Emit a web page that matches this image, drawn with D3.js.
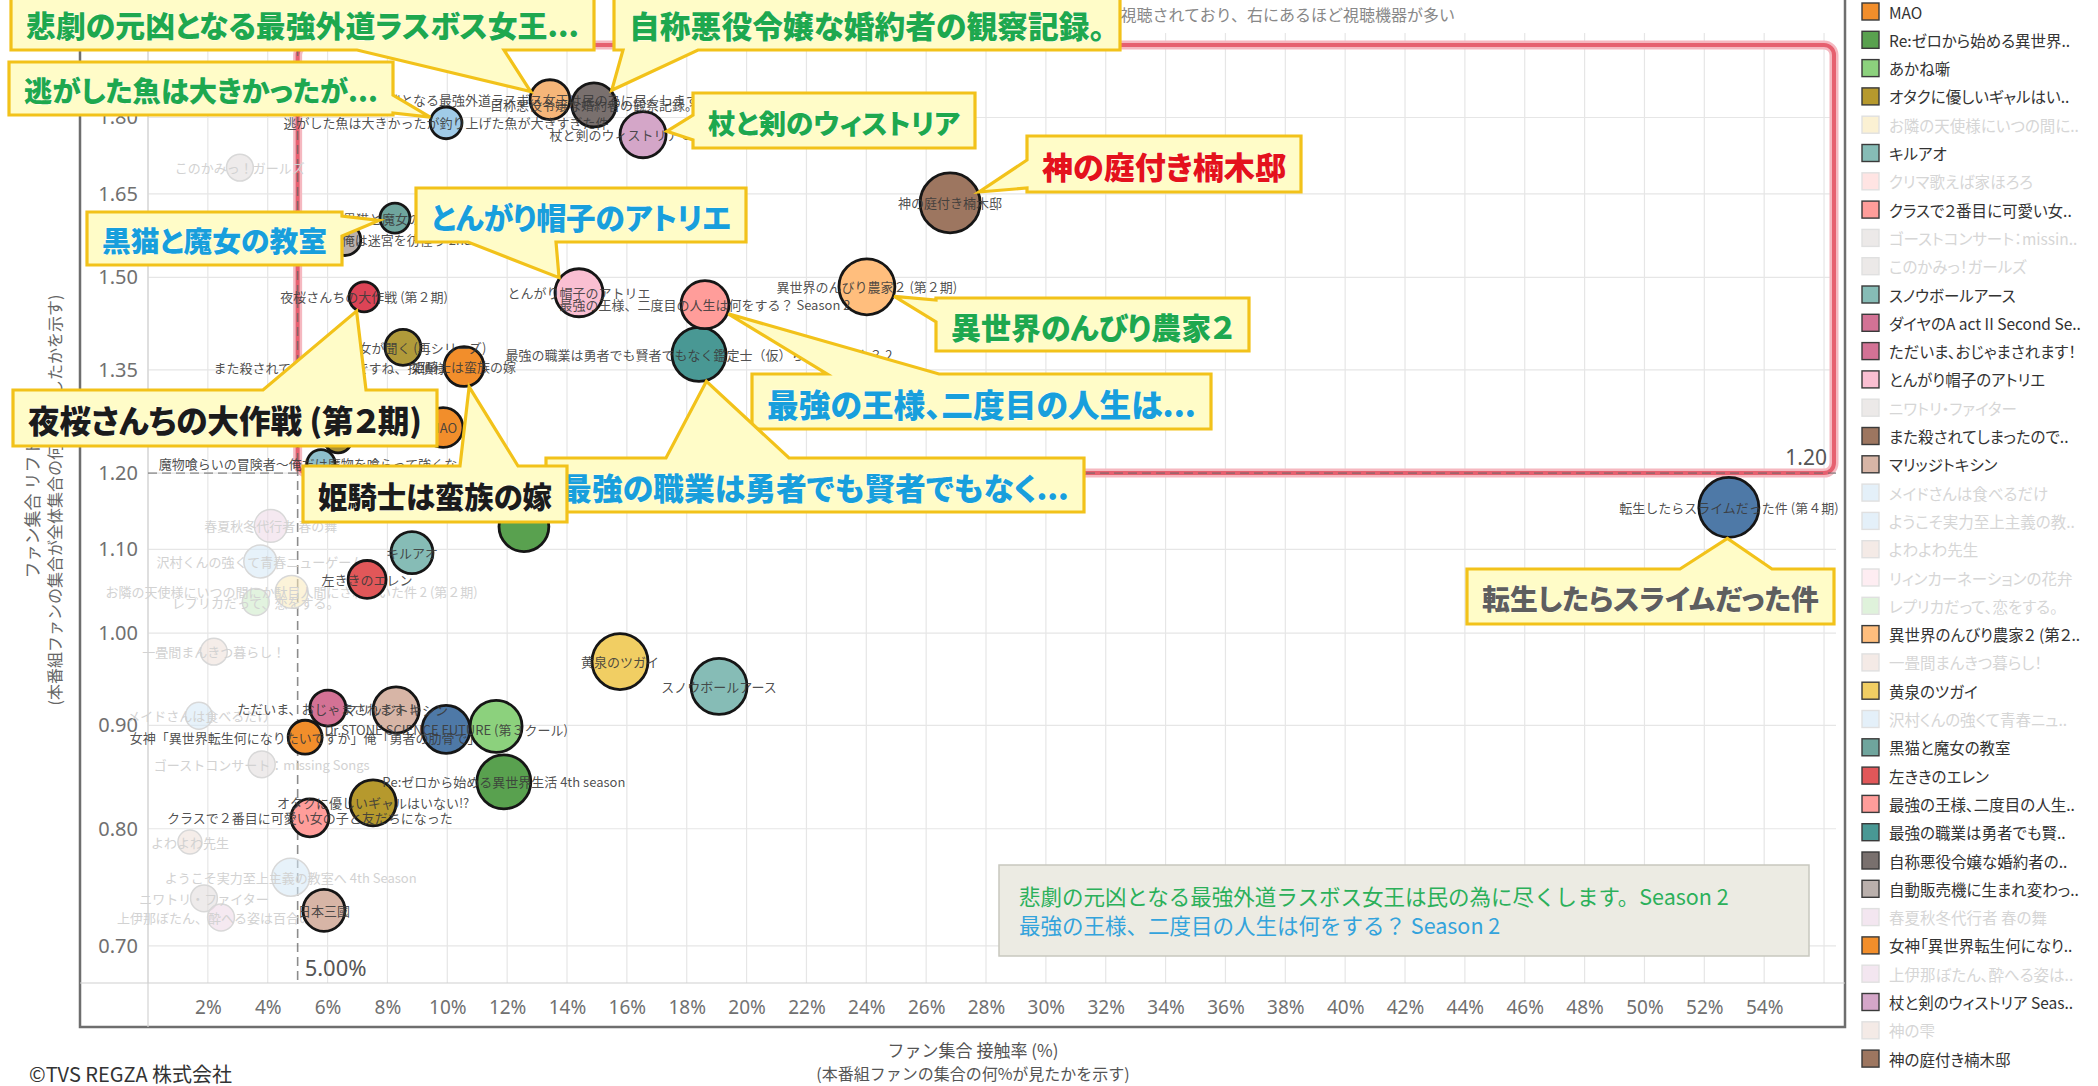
<!DOCTYPE html>
<html>
<head>
<meta charset="utf-8">
<script src="https://cdn.jsdelivr.net/npm/d3@7"></script>
<style>
  body { margin: 0; background: #fff; }
  svg { display: block; font-family: "Noto Sans CJK JP", "Noto Sans", sans-serif; }
</style>
</head>
<body>
<svg id="chart" width="2098" height="1086"></svg>
<script>
// ---------- data ----------
const xTicks = d3.range(2, 56, 2);
const yTicks = [0.70, 0.80, 0.90, 1.00, 1.10, 1.20, 1.35, 1.50, 1.65, 1.80];

// highlighted titles (x: ファン集合 接触率 %, y: リフト値, size: bubble size)
const pointNames = [
  "悲劇の元凶となる最強外道ラスボス女王は民の為に尽くします。Season 2",
  "自称悪役令嬢な婚約者の観察記録。",
  "杖と剣のウィストリア Season 2",
  "逃がした魚は大きかったが釣り上げた魚が大きすぎた件",
  "黒猫と魔女の教室",
  "自動販売機に生まれ変わった俺は迷宮を彷徨う 2nd season",
  "とんがり帽子のアトリエ",
  "夜桜さんちの大作戦 (第２期)",
  "陶芸少女が聞く (再シリーズ)",
  "姫騎士は蛮族の嫁",
  "MAO",
  "最強の王様、二度目の人生は何をする？ Season 2",
  "最強の職業は勇者でも賢者でもなく鑑定士（仮）らしいですよ？ 2",
  "魔物喰らいの冒険者～俺だけ魔物を喰らって強くなる～",
  "また殺されてしまったのですね、探偵様",
  "（その他２）",
  "（その他）",
  "キルアオ",
  "左ききのエレン",
  "黄泉のツガイ",
  "スノウボールアース",
  "ただいま、おじゃまされます！",
  "マリッジトキシン",
  "Dr.STONE SCIENCE FUTURE (第３クール)",
  "あかね噺",
  "女神「異世界転生何になりたいですか」俺「勇者の肋骨で」",
  "Re:ゼロから始める異世界生活 4th season",
  "オタクに優しいギャルはいない!?",
  "クラスで２番目に可愛い女の子と友だちになった",
  "日本三國",
  "神の庭付き楠木邸",
  "異世界のんびり農家２ (第２期)",
  "転生したらスライムだった件 (第４期)"
];
const pointX = [13.43, 14.90, 16.54, 9.96, 8.25, 6.58, 14.40, 7.22, 8.52, 10.56, 9.86, 18.61, 18.41, 5.78, 6.08, 6.35,
  12.56, 8.82, 7.32, 15.77, 19.08, 6.01, 8.29, 9.96, 11.63, 5.25, 11.89, 7.52, 5.41, 5.88, 26.80, 24.02, 52.82];
const pointY = [1.837, 1.826, 1.765, 1.789, 1.605, 1.566, 1.474, 1.467, 1.385, 1.355, 1.264, 1.454, 1.374, 1.213, 1.354, 1.248,
  1.129, 1.096, 1.063, 0.968, 0.941, 0.918, 0.916, 0.896, 0.899, 0.888, 0.844, 0.824, 0.810, 0.729, 1.633, 1.484, 1.154];
const pointSize = [44, 54, 59, 28, 25, 28, 64, 25, 36, 44, 44, 64, 81, 22, 28, 22,
  69, 49, 40, 87, 87, 36, 59, 64, 75, 32, 81, 59, 40, 49, 100, 87, 100];
const hiddenLabels = ["（その他）", "（その他２）", "あかね噺"];

// titles that are greyed out
const fadedNames = ["このかみっ！ガールズ", "春夏秋冬代行者 春の舞", "沢村くんの強くて青春ニューゲーム",
  "お隣の天使様にいつの間にか駄目人間にされていた件 2 (第２期)", "レプリカだって、恋をする。", "一畳間まんきつ暮らし！",
  "メイドさんは食べるだけ", "ゴーストコンサート：missing Songs", "よわよわ先生",
  "ようこそ実力至上主義の教室へ 4th Season", "ニワトリ・ファイター", "上伊那ぼたん、酔へる姿は百合の花"];
const fadedX = [3.07, 4.10, 3.75, 4.80, 3.60, 2.20, 1.70, 3.80, 1.40, 4.77, 1.87, 2.44];
const fadedY = [1.700, 1.130, 1.085, 1.048, 1.036, 0.979, 0.910, 0.861, 0.788, 0.757, 0.739, 0.723];
const fadedSize = [20, 30, 30, 30, 20, 20, 20, 20, 16, 40, 20, 20];

// legend window (as visible)
const legendNames = ["MAO", "Re:ゼロから始める異世界生活 4th season", "あかね噺", "オタクに優しいギャルはいない!?",
  "お隣の天使様にいつの間にか駄目人間にされていた件 2 (第２期)", "キルアオ", "クリマ歌えば家ほろろ",
  "クラスで２番目に可愛い女の子と友だちになった", "ゴーストコンサート：missing Songs", "このかみっ！ガールズ",
  "スノウボールアース", "ダイヤのA act II Second Season", "ただいま、おじゃまされます！", "とんがり帽子のアトリエ",
  "ニワトリ・ファイター", "また殺されてしまったのですね、探偵様", "マリッジトキシン", "メイドさんは食べるだけ",
  "ようこそ実力至上主義の教室へ 4th Season", "よわよわ先生", "リィンカーネーションの花弁", "レプリカだって、恋をする。",
  "異世界のんびり農家２ (第２期)", "一畳間まんきつ暮らし！", "黄泉のツガイ", "沢村くんの強くて青春ニューゲーム",
  "黒猫と魔女の教室", "左ききのエレン", "最強の王様、二度目の人生は何をする？ Season 2",
  "最強の職業は勇者でも賢者でもなく鑑定士（仮）らしいですよ？ 2", "自称悪役令嬢な婚約者の観察記録。",
  "自動販売機に生まれ変わった俺は迷宮を彷徨う 2nd season", "春夏秋冬代行者 春の舞",
  "女神「異世界転生何になりたいですか」俺「勇者の肋骨で」", "上伊那ぼたん、酔へる姿は百合の花",
  "杖と剣のウィストリア Season 2", "神の雫", "神の庭付き楠木邸"];
const legendFaded = ["お隣の天使様にいつの間にか駄目人間にされていた件 2 (第２期)", "クリマ歌えば家ほろろ",
  "ゴーストコンサート：missing Songs", "このかみっ！ガールズ", "ニワトリ・ファイター", "メイドさんは食べるだけ",
  "ようこそ実力至上主義の教室へ 4th Season", "よわよわ先生", "リィンカーネーションの花弁", "レプリカだって、恋をする。",
  "一畳間まんきつ暮らし！", "沢村くんの強くて青春ニューゲーム", "春夏秋冬代行者 春の舞",
  "上伊那ぼたん、酔へる姿は百合の花", "神の雫"];

// series colours
const colorOf = {
  "MAO": "#f28e2b", "Re:ゼロから始める異世界生活 4th season": "#59a14f", "あかね噺": "#8cd17d",
  "オタクに優しいギャルはいない!?": "#b6992d", "お隣の天使様にいつの間にか駄目人間にされていた件 2 (第２期)": "#f1ce63",
  "キルアオ": "#86bcb6", "クリマ歌えば家ほろろ": "#ff9d9a", "クラスで２番目に可愛い女の子と友だちになった": "#ff9d9a",
  "ゴーストコンサート：missing Songs": "#bab0ac", "このかみっ！ガールズ": "#bab0ac", "スノウボールアース": "#86bcb6",
  "ダイヤのA act II Second Season": "#d37295", "ただいま、おじゃまされます！": "#d37295", "とんがり帽子のアトリエ": "#fabfd2",
  "ニワトリ・ファイター": "#bab0ac", "また殺されてしまったのですね、探偵様": "#9d7660", "マリッジトキシン": "#d7b5a6",
  "メイドさんは食べるだけ": "#a0cbe8", "ようこそ実力至上主義の教室へ 4th Season": "#a0cbe8", "よわよわ先生": "#d7b5a6",
  "リィンカーネーションの花弁": "#fabfd2", "レプリカだって、恋をする。": "#8cd17d", "異世界のんびり農家２ (第２期)": "#ffbe7d",
  "一畳間まんきつ暮らし！": "#d7b5a6", "黄泉のツガイ": "#f1ce63", "沢村くんの強くて青春ニューゲーム": "#a0cbe8",
  "黒猫と魔女の教室": "#6fa59d", "左ききのエレン": "#e15759", "最強の王様、二度目の人生は何をする？ Season 2": "#ff9d9a",
  "最強の職業は勇者でも賢者でもなく鑑定士（仮）らしいですよ？ 2": "#499894", "自称悪役令嬢な婚約者の観察記録。": "#79706e",
  "自動販売機に生まれ変わった俺は迷宮を彷徨う 2nd season": "#bab0ac", "春夏秋冬代行者 春の舞": "#d4a6c8",
  "女神「異世界転生何になりたいですか」俺「勇者の肋骨で」": "#f28e2b", "上伊那ぼたん、酔へる姿は百合の花": "#d4a6c8",
  "杖と剣のウィストリア Season 2": "#d4a6c8", "神の雫": "#d7b5a6", "神の庭付き楠木邸": "#9d7660",
  "悲劇の元凶となる最強外道ラスボス女王は民の為に尽くします。Season 2": "#f6b679",
  "逃がした魚は大きかったが釣り上げた魚が大きすぎた件": "#a0cbe8", "夜桜さんちの大作戦 (第２期)": "#dc4456",
  "陶芸少女が聞く (再シリーズ)": "#b09a3a", "姫騎士は蛮族の嫁": "#f28e2b", "魔物喰らいの冒険者～俺だけ魔物を喰らって強くなる～": "#8fbfcc",
  "（その他）": "#59a14f", "（その他２）": "#a68f35", "Dr.STONE SCIENCE FUTURE (第３クール)": "#4e79a7", "日本三國": "#d7b5a6",
  "転生したらスライムだった件 (第４期)": "#4e79a7"
};

// ---------- layout ----------
const svg = d3.select("#chart");
const plot = {left: 148, right: 1836, top: 33, bottom: 983};
const GREEN = "#1ea84e", BLUE = "#189fdc", RED = "#e4121c", BLACK = "#1b1b1b", GRAY = "#5e5e5e";

const x = d3.scaleLinear().domain([0, 56.4]).range([plot.left, plot.right]);
const y = d3.scaleLog().domain([0.671, 1.982]).range([plot.bottom, plot.top]);
const r = d3.scaleSqrt().domain([0, 100]).range([0, 30]);

// outer pane frame
svg.append("rect").attr("x", 80).attr("y", -4).attr("width", 1765).attr("height", 1031)
  .attr("fill", "none").attr("stroke", "#6e6e6e").attr("stroke-width", 2.5);

// grid
const grid = svg.append("g");
grid.selectAll("line.v").data(d3.range(0, 57, 2)).join("line")
  .attr("x1", d => x(d)).attr("x2", d => x(d)).attr("y1", plot.top).attr("y2", plot.bottom)
  .attr("stroke", "#e6e6e6").attr("stroke-width", 1.2);
grid.selectAll("line.h").data(yTicks).join("line")
  .attr("x1", plot.left).attr("x2", plot.right).attr("y1", d => y(d)).attr("y2", d => y(d))
  .attr("stroke", "#e6e6e6").attr("stroke-width", 1.2);
svg.append("line").attr("x1", plot.left).attr("x2", plot.left).attr("y1", plot.top).attr("y2", 1027)
  .attr("stroke", "#d4d4d4").attr("stroke-width", 1.2);
svg.append("line").attr("x1", 80).attr("x2", 1845).attr("y1", plot.bottom).attr("y2", plot.bottom)
  .attr("stroke", "#d0d0d0").attr("stroke-width", 1.2);

// axes (labels only)
const gx = svg.append("g").attr("transform", `translate(0,${plot.bottom})`)
  .call(d3.axisBottom(x).tickValues(xTicks).tickFormat(d => d + "%").tickSize(0).tickPadding(18));
gx.select(".domain").remove();
gx.selectAll("text").attr("font-size", 19).attr("fill", "#707070").attr("font-family", "'Noto Sans', sans-serif");

const gy = svg.append("g").attr("transform", `translate(${plot.left},0)`)
  .call(d3.axisLeft(y).tickValues(yTicks).tickFormat(d3.format(".2f")).tickSize(0).tickPadding(10));
gy.select(".domain").remove();
gy.selectAll("text").attr("font-size", 20).attr("fill", "#707070").attr("font-family", "'Noto Sans', sans-serif");

// axis titles
svg.append("text").attr("x", 973).attr("y", 1049).attr("text-anchor", "middle").attr("dominant-baseline", "central")
  .attr("font-size", 17).attr("fill", "#555").text("ファン集合 接触率 (%)");
svg.append("text").attr("x", 973).attr("y", 1073).attr("text-anchor", "middle").attr("dominant-baseline", "central")
  .attr("font-size", 16).attr("fill", "#555").text("(本番組ファンの集合の何%が見たかを示す)");
svg.append("text").attr("transform", "translate(31,500) rotate(-90)").attr("text-anchor", "middle")
  .attr("dominant-baseline", "central").attr("font-size", 17).attr("fill", "#666").text("ファン集合 リフト値");
svg.append("text").attr("transform", "translate(54,500) rotate(-90)").attr("text-anchor", "middle")
  .attr("dominant-baseline", "central").attr("font-size", 16).attr("fill", "#666")
  .text("(本番組ファンの集合が全体集合の何倍視聴したかを示す)");

// header note (partly covered by callouts)
svg.append("text").attr("x", 1455).attr("y", 14).attr("text-anchor", "end").attr("dominant-baseline", "central")
  .attr("font-size", 16).attr("fill", "#888")
  .text("上にあるほどファン集合で多く視聴されており、右にあるほど視聴機器が多い");

// highlight zone
const zone = {x0: x(5), x1: plot.right - 2, y0: plot.top + 12, y1: y(1.20)};
svg.append("rect").attr("x", zone.x0).attr("y", zone.y0).attr("width", zone.x1 - zone.x0).attr("height", zone.y1 - zone.y0)
  .attr("rx", 10).attr("fill", "none").attr("stroke", "#f5b8c0").attr("stroke-width", 9);
svg.append("rect").attr("x", zone.x0).attr("y", zone.y0).attr("width", zone.x1 - zone.x0).attr("height", zone.y1 - zone.y0)
  .attr("rx", 10).attr("fill", "none").attr("stroke", "#e6606f").attr("stroke-width", 4);

// reference lines
svg.append("line").attr("x1", x(5)).attr("x2", x(5)).attr("y1", plot.top).attr("y2", plot.bottom)
  .attr("stroke", "#666").attr("stroke-opacity", 0.75).attr("stroke-width", 1.6).attr("stroke-dasharray", "9,5");
svg.append("line").attr("x1", plot.left).attr("x2", plot.right).attr("y1", y(1.2)).attr("y2", y(1.2))
  .attr("stroke", "#666").attr("stroke-opacity", 0.55).attr("stroke-width", 1.6).attr("stroke-dasharray", "9,5");
svg.append("text").attr("x", x(5) + 7).attr("y", plot.bottom - 16).attr("dominant-baseline", "central")
  .attr("font-size", 22).attr("fill", "#555").attr("font-family", "'Noto Sans', sans-serif").text("5.00%");
svg.append("text").attr("x", plot.right - 9).attr("y", y(1.2) - 16).attr("text-anchor", "end").attr("dominant-baseline", "central")
  .attr("font-size", 21).attr("fill", "#555").attr("font-family", "'Noto Sans', sans-serif").text("1.20");

// faded bubbles
const faded = fadedNames.map((n, i) => ({name: n, x: fadedX[i], y: fadedY[i], s: fadedSize[i]}));
const fadedG = svg.append("g");
fadedG.selectAll("circle").data(faded).join("circle")
  .attr("cx", d => x(d.x)).attr("cy", d => y(d.y)).attr("r", d => r(d.s))
  .attr("fill", d => d3.interpolateRgb(colorOf[d.name] || "#ccc", "#fff")(0.55)).attr("fill-opacity", 0.55)
  .attr("stroke", "#d8d8d8").attr("stroke-width", 1.5);
fadedG.selectAll("text").data(faded).join("text")
  .attr("x", d => x(d.x)).attr("y", d => y(d.y)).attr("text-anchor", "middle").attr("dominant-baseline", "central")
  .attr("font-size", 13).attr("fill", "#d2d2d2").text(d => d.name);

// highlighted bubbles
const points = pointNames.map((n, i) => ({name: n, x: pointX[i], y: pointY[i], s: pointSize[i]}));
const byName = Object.fromEntries(points.map(p => [p.name, p]));
const drawOrder = points.slice().sort((a, b) => a.x - b.x);
svg.append("g").selectAll("circle").data(drawOrder).join("circle")
  .attr("cx", d => x(d.x)).attr("cy", d => y(d.y)).attr("r", d => r(d.s))
  .attr("fill", d => colorOf[d.name]).attr("stroke", "#161616").attr("stroke-width", 2.8);
svg.append("g").selectAll("text").data(points.filter(p => !hiddenLabels.includes(p.name))).join("text")
  .attr("x", d => x(d.x)).attr("y", d => y(d.y)).attr("text-anchor", "middle").attr("dominant-baseline", "central")
  .attr("font-size", 13).attr("fill", "#3a3a3a").attr("fill-opacity", 0.9).text(d => d.name);

// callouts (box in page px, pointer tip anchored to the bubble)
const callouts = [
  {text: "悲劇の元凶となる最強外道ラスボス女王...", color: GREEN, box: [11, -4, 583, 54], edge: "bottom", base: [346, 493], target: pointNames[0]},
  {text: "自称悪役令嬢な婚約者の観察記録。", color: GREEN, box: [614, -4, 506, 54], edge: "bottom", base: [9, 84], target: pointNames[1]},
  {text: "逃がした魚は大きかったが...", color: GREEN, box: [9, 62, 384, 53], edge: "right", base: [33, 51], target: pointNames[3]},
  {text: "杖と剣のウィストリア", color: GREEN, box: [693, 93, 282, 55], edge: "left", base: [22, 47], target: pointNames[2]},
  {text: "神の庭付き楠木邸", color: RED, box: [1027, 136, 274, 56], edge: "left", base: [24, 52], target: pointNames[30]},
  {text: "黒猫と魔女の教室", color: BLUE, box: [87, 212, 255, 53], edge: "right", base: [4, 24], target: pointNames[4]},
  {text: "とんがり帽子のアトリエ", color: BLUE, box: [416, 188, 330, 54], edge: "bottom", base: [52, 140], target: pointNames[6]},
  {text: "異世界のんびり農家２", color: GREEN, box: [936, 298, 313, 53], edge: "left", base: [2, 24], target: pointNames[31]},
  {text: "最強の王様、二度目の人生は...", color: BLUE, box: [752, 374, 459, 55], edge: "top", base: [75, 187], target: pointNames[11]},
  {text: "最強の職業は勇者でも賢者でもなく...", color: BLUE, box: [546, 458, 538, 54], edge: "top", base: [120, 243], target: pointNames[12]},
  {text: "夜桜さんちの大作戦 (第２期)", color: BLACK, box: [13, 390, 424, 56], edge: "top", base: [250, 353], target: pointNames[7]},
  {text: "姫騎士は蛮族の嫁", color: BLACK, box: [303, 466, 264, 56], edge: "top", base: [157, 215], target: pointNames[9]},
  {text: "転生したらスライムだった件", color: GRAY, box: [1467, 569, 367, 55], edge: "top", base: [213, 305], target: pointNames[32]}
];

function calloutPath(c) {
  const [bx, by, bw, bh] = c.box, [a0, a1] = c.base;
  let mid;
  if (c.edge === "top") mid = [bx + (a0 + a1) / 2, by];
  if (c.edge === "bottom") mid = [bx + (a0 + a1) / 2, by + bh];
  if (c.edge === "left") mid = [bx, by + (a0 + a1) / 2];
  if (c.edge === "right") mid = [bx + bw, by + (a0 + a1) / 2];
  const p = byName[c.target];
  const cx = x(p.x), cy = y(p.y), rr = r(p.s) + 1;
  const dx = mid[0] - cx, dy = mid[1] - cy, len = Math.hypot(dx, dy);
  const tip = [cx + dx / len * rr, cy + dy / len * rr];
  let pts;
  if (c.edge === "top") pts = [[bx, by], [bx + a0, by], tip, [bx + a1, by], [bx + bw, by], [bx + bw, by + bh], [bx, by + bh]];
  if (c.edge === "bottom") pts = [[bx, by], [bx + bw, by], [bx + bw, by + bh], [bx + a1, by + bh], tip, [bx + a0, by + bh], [bx, by + bh]];
  if (c.edge === "left") pts = [[bx, by], [bx + bw, by], [bx + bw, by + bh], [bx, by + bh], [bx, by + a1], tip, [bx, by + a0]];
  if (c.edge === "right") pts = [[bx, by], [bx + bw, by], [bx + bw, by + a0], tip, [bx + bw, by + a1], [bx + bw, by + bh], [bx, by + bh]];
  return "M" + pts.map(q => q.join(",")).join("L") + "Z";
}

const cg = svg.append("g").selectAll("g").data(callouts).join("g");
cg.append("path").attr("d", calloutPath).attr("fill", "#fffcc8").attr("stroke", "#f2c21a")
  .attr("stroke-width", 3.2).attr("stroke-linejoin", "miter");
cg.append("text")
  .attr("x", d => d.box[0] + d.box[2] / 2).attr("y", d => d.box[1] + d.box[3] / 2 + 1)
  .attr("text-anchor", "middle").attr("dominant-baseline", "central")
  .attr("font-weight", 900).attr("font-size", 30).style("font-feature-settings", "'palt'")
  .attr("fill", d => d.color).attr("stroke", "#fff").attr("stroke-width", 0.6).attr("paint-order", "stroke")
  .text(d => d.text)
  .each(function (d) {
    const avail = d.box[2] - 30;
    const w = this.getComputedTextLength();
    const fs = Math.max(24, Math.min(34, 30 * avail / w));
    d3.select(this).attr("font-size", fs);
  });

// note box
const note = svg.append("g");
note.append("rect").attr("x", 999).attr("y", 865).attr("width", 810).attr("height", 91)
  .attr("fill", "#ecebe3").attr("stroke", "#c8c8bf").attr("stroke-width", 1.5);
note.append("text").attr("x", 1019).attr("y", 895).attr("dominant-baseline", "central")
  .attr("font-size", 21.5).attr("fill", "#2bb05a").text(pointNames[0]);
note.append("text").attr("x", 1019).attr("y", 924).attr("dominant-baseline", "central")
  .attr("font-size", 21.5).attr("fill", "#33a3dc").text(pointNames[11]);

// legend
const lg = svg.append("g").selectAll("g").data(legendNames).join("g")
  .attr("transform", (d, i) => `translate(1862,${11.5 + i * 28.3})`);
lg.append("rect").attr("x", 0).attr("y", -8.5).attr("width", 17).attr("height", 17)
  .attr("fill", d => legendFaded.includes(d) ? d3.interpolateRgb(colorOf[d], "#fff")(0.72) : colorOf[d])
  .attr("stroke", d => legendFaded.includes(d) ? "#e0e0e0" : "#3a3a3a").attr("stroke-width", 1.4);
lg.append("text").attr("x", 27).attr("y", 0).attr("dominant-baseline", "central")
  .attr("font-size", 15.5).attr("fill", d => legendFaded.includes(d) ? "#d6d6d6" : "#333")
  .style("font-feature-settings", "'palt'")
  .text(d => d)
  .each(function (d) {
    const maxW = 192;
    const t = d3.select(this);
    if (this.getComputedTextLength() > maxW) {
      let s = d;
      while (s.length > 1 && this.getComputedTextLength() > maxW) {
        s = s.slice(0, -1);
        t.text(s.trimEnd() + "..");
      }
    }
  });

// copyright
svg.append("text").attr("x", 29).attr("y", 1073).attr("dominant-baseline", "central")
  .attr("font-size", 20).attr("fill", "#333").text("©TVS REGZA 株式会社");
</script>
</body>
</html>
